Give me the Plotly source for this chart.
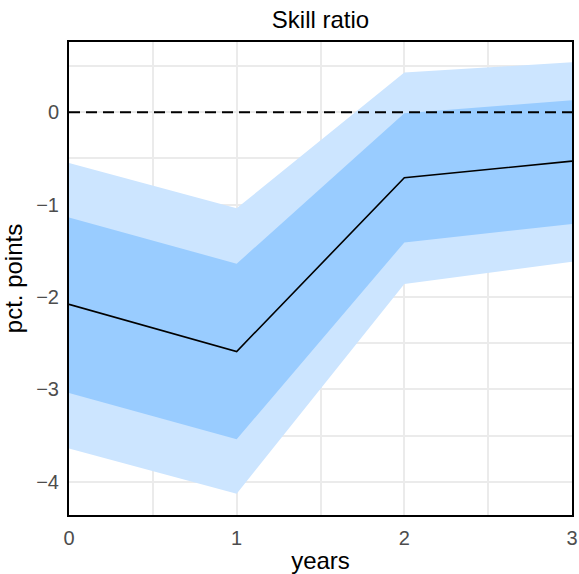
import plotly.graph_objects as go

years = [0, 1, 2, 3]
mean = [-2.08, -2.59, -0.71, -0.53]
inner_upper = [-1.14, -1.64, -0.01, 0.13]
inner_lower = [-3.04, -3.54, -1.41, -1.21]
outer_upper = [-0.55, -1.04, 0.43, 0.54]
outer_lower = [-3.64, -4.13, -1.86, -1.62]

LIGHT = '#CCE5FF'
DARK = '#99CCFF'

fig = go.Figure()

# Outer band
fig.add_trace(go.Scatter(x=years, y=outer_upper, mode='lines', line=dict(width=0),
                         hoverinfo='skip', showlegend=False))
fig.add_trace(go.Scatter(x=years, y=outer_lower, mode='lines', line=dict(width=0),
                         fill='tonexty', fillcolor=LIGHT, hoverinfo='skip', showlegend=False))

# Inner band
fig.add_trace(go.Scatter(x=years, y=inner_upper, mode='lines', line=dict(width=0),
                         hoverinfo='skip', showlegend=False))
fig.add_trace(go.Scatter(x=years, y=inner_lower, mode='lines', line=dict(width=0),
                         fill='tonexty', fillcolor=DARK, hoverinfo='skip', showlegend=False))

# Median line
fig.add_trace(go.Scatter(x=years, y=mean, mode='lines',
                         line=dict(color='black', width=1.6), showlegend=False))

fig.add_hline(y=0, line_dash='11px,6px', line_color='black', line_width=2)

axis_common = dict(
    showgrid=True, gridcolor='#EBEBEB', gridwidth=1.5,
    minor=dict(dtick=0.5, showgrid=True, gridcolor='#EBEBEB', gridwidth=1.5),
    showline=True, linecolor='black', linewidth=2, mirror=True,
    zeroline=False, ticks='', automargin=False,
    tickfont=dict(size=20, color='#4D4D4D'),
    title_font=dict(size=24, color='black'),
)

fig.update_layout(
    width=579, height=574,
    margin=dict(l=69, r=7, t=42, b=59),
    plot_bgcolor='white', paper_bgcolor='white',
    font=dict(family='Liberation Sans, Arial, sans-serif'),
    title=dict(text='Skill ratio', x=0.5, xanchor='center', xref='paper',
               y=0.965, yanchor='middle', font=dict(size=24, color='black')),
    xaxis=dict(range=[0, 3], tickvals=years, title_text='years',
               title_standoff=6, ticklabelstandoff=4, **axis_common),
    yaxis=dict(range=[-4.36, 0.76], tickvals=[-4, -3, -2, -1, 0],
               ticktext=['\u22124', '\u22123', '\u22122', '\u22121', '0'],
               title_text='pct. points', title_standoff=8, ticklabelstandoff=4,
               **axis_common),
)

fig.write_html('out.html', config={'displayModeBar': False},
               post_script="document.body.style.margin='0';")
